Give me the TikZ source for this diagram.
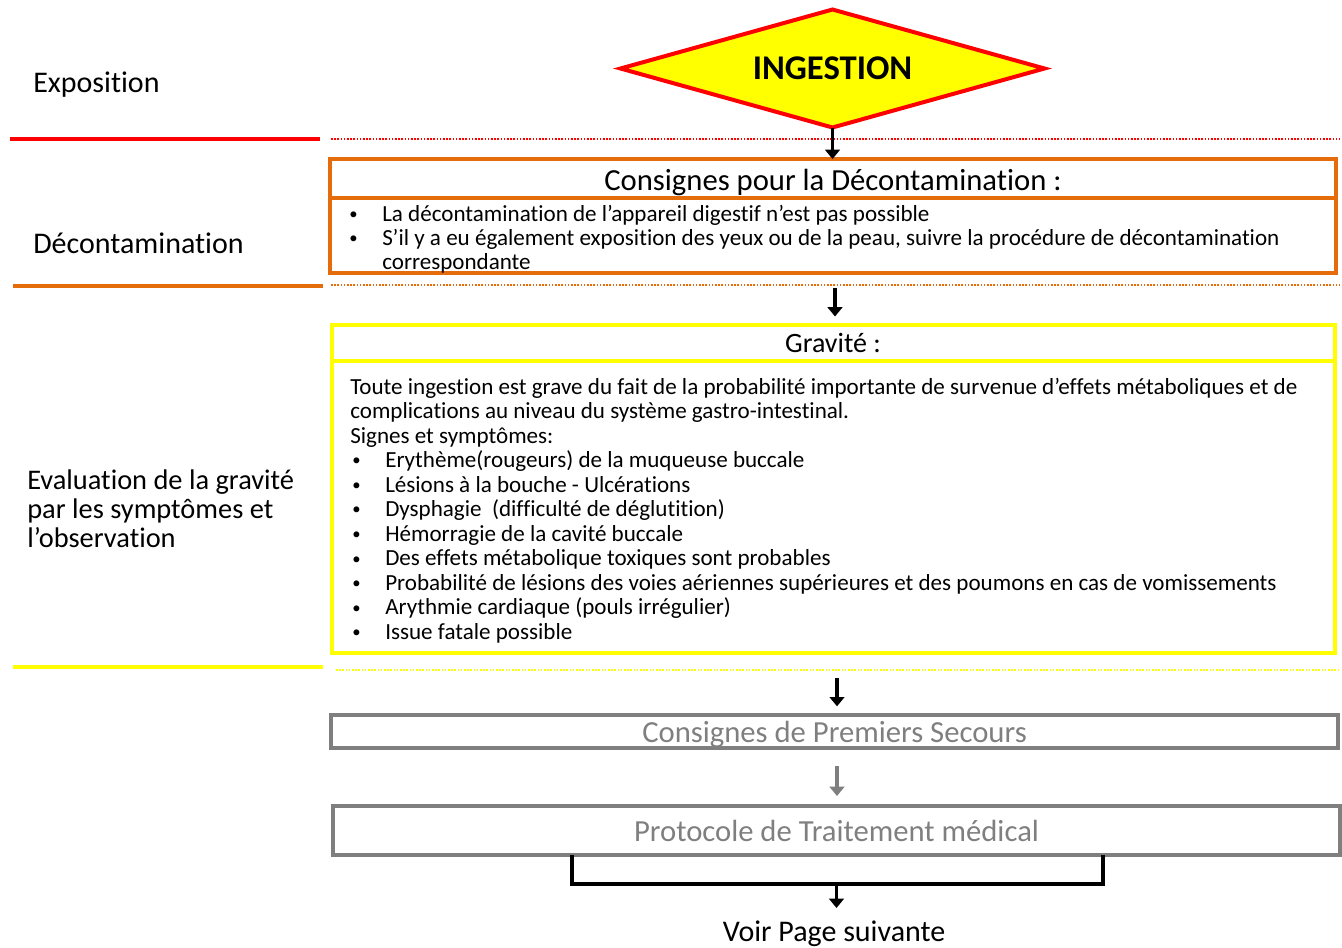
\documentclass[tikz,border=0pt]{standalone}
\usepackage{fontspec}
\setmainfont{Carlito}[Ligatures=NoCommon]
\usetikzlibrary{shapes.geometric,arrows.meta}
\definecolor{ored}{HTML}{FF0000}
\definecolor{oorange}{HTML}{E46C0A}
\definecolor{oyellow}{HTML}{FFFF00}
\definecolor{ogray}{HTML}{7F7F7F}
% small list bullet
\newcommand{\lbul}{\raisebox{1.3pt}{\fontsize{12.5pt}{12.5pt}\selectfont •}}
\begin{document}
\begin{tikzpicture}[x=0.75pt,y=-0.75pt,
  panel/.style={draw, rectangle, line width=3pt, inner sep=0pt, outer sep=0pt, anchor=north west},
  title/.style={inner sep=0pt, font=\fontsize{23pt}{24pt}\selectfont},
  side/.style={anchor=base west, inner sep=0pt, font=\fontsize{22.5pt}{21.75pt}\selectfont},
  bodytext/.style={anchor=base west, inner sep=0pt, font=\fontsize{17.3pt}{18pt}\selectfont},
  flow/.style={line width=2.6pt, -{Triangle[length=7pt,width=11pt]}},
  rule/.style={line width=3pt},
  dotrule/.style={line width=1.2pt, dash pattern=on 1.2pt off 1.2pt}
]
\useasboundingbox (0,0) rectangle (1342,947);

% exposure stage
\node[diamond, draw=ored, fill=oyellow, line width=3pt, inner sep=0pt, outer sep=0pt,
      minimum width=318pt, minimum height=88.5pt, aspect=3.6,
      font=\fontsize{26pt}{28pt}\selectfont\bfseries] (ing) at (832.5,68.5) {\raisebox{-2pt}{INGESTION}};

% stage labels
\node[side] (lexp) at (33,92) {Exposition};
\node[side] (ldec) at (33,253) {Décontamination};
\node[side, anchor=west, align=left, font=\fontsize{21.3pt}{21.75pt}\selectfont] (leval) at (27,509)
  {Evaluation de la gravité\\par les symptômes et\\l’observation};

% stage separators
\draw[rule, ored] (10,139) -- (320,139);
\draw[dotrule, ored] (331,139) -- (1340,139);
\draw[rule, oorange] (13,286) -- (323,286);
\draw[dotrule, oorange] (331,285) -- (1340,285);
\draw[rule, oyellow] (13,667) -- (323,667);
\draw[dotrule, oyellow] (336,670) -- (1340,670);

% decontamination box
\node[panel, draw=oorange, minimum width=754.5pt, minimum height=29.25pt] (dhead) at (330,159) {};
\node[title] (dtitle) at ([yshift=-3pt]dhead.center) {Consignes pour la Décontamination :};
\node[panel, draw=oorange, minimum width=754.5pt, minimum height=56.25pt] (dbody) at (330,198) {};
\node[bodytext] (dtext) at (349,221) {%
  \begin{tabular}[t]{@{}p{24.75pt}@{}l@{}}
  \lbul & La décontamination de l’appareil digestif n’est pas possible\\
  \lbul & S’il y a eu également exposition des yeux ou de la peau, suivre la procédure de décontamination\\
   & correspondante
  \end{tabular}};

% severity box
\node[panel, draw=oyellow, minimum width=752.25pt, minimum height=27.4pt,
      font=\fontsize{21pt}{22pt}\selectfont] (ghead) at (331.5,324.5) {Gravité :};
\node[panel, draw=oyellow, minimum width=752.25pt, minimum height=219pt] (gbody) at (331.5,361) {};
\node[bodytext, font=\fontsize{17.3pt}{18.4pt}\selectfont] (gtext) at (350,394) {%
  \begin{tabular}[t]{@{}p{26.25pt}@{}l@{}}
  \multicolumn{2}{@{}l@{}}{Toute ingestion est grave du fait de la probabilité importante de survenue d’effets métaboliques et de}\\
  \multicolumn{2}{@{}l@{}}{complications au niveau du système gastro-intestinal.}\\
  \multicolumn{2}{@{}l@{}}{Signes et symptômes:}\\
  \hspace{1.5pt}\lbul & Erythème(rougeurs) de la muqueuse buccale\\
  \hspace{1.5pt}\lbul & Lésions à la bouche - Ulcérations\\
  \hspace{1.5pt}\lbul & Dysphagie\ \ (difficulté de déglutition)\\
  \hspace{1.5pt}\lbul & Hémorragie de la cavité buccale\\
  \hspace{1.5pt}\lbul & Des effets métabolique toxiques sont probables\\
  \hspace{1.5pt}\lbul & Probabilité de lésions des voies aériennes supérieures et des poumons en cas de vomissements\\
  \hspace{1.5pt}\lbul & Arythmie cardiaque (pouls irrégulier)\\
  \hspace{1.5pt}\lbul & Issue fatale possible
  \end{tabular}};

% first aid and treatment
\node[panel, draw=ogray, minimum width=755.25pt, minimum height=24.75pt] (fa) at (331,715) {};
\node[title, text=ogray] (fatitle) at ([yshift=-2pt]fa.center) {Consignes de Premiers Secours};
\node[panel, draw=ogray, text=ogray, minimum width=755.25pt, minimum height=36.75pt,
      font=\fontsize{23pt}{24pt}\selectfont] (ptm) at (333,806) {Protocole de Traitement médical};

\node[inner sep=0pt, font=\fontsize{22.5pt}{24pt}\selectfont] (voir) at (834,934) {Voir Page suivante};

% connectors
\draw[flow] (ing.south) -- (ing.south |- dhead.north);
\draw[flow, shorten <=11.25pt, shorten >=6pt] (dbody.south -| 835,0) -- (ghead.north -| 835,0);
\draw[flow, shorten <=18.75pt, shorten >=6.5pt] (gbody.south -| 837,0) -- (fa.north -| 837,0);
\draw[flow, ogray, shorten <=13.5pt, shorten >=7.5pt] (fa.south -| 837,0) -- (ptm.north -| 837,0);

\coordinate (bl) at (572,884);
\coordinate (br) at (1103,884);
\coordinate (vtip) at (836.5,908);
\draw[line width=3pt] (ptm.south -| bl) -- (bl) -- (br) -- (ptm.south -| br);
\draw[flow] (ptm.center |- bl) -- (vtip);
\end{tikzpicture}
\end{document}
